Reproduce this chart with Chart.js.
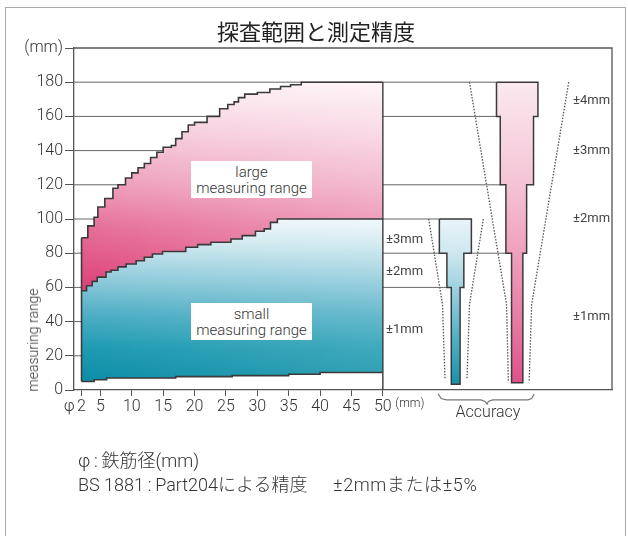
<!DOCTYPE html>
<html>
<head>
<meta charset="utf-8">
<script src="https://cdn.jsdelivr.net/npm/chart.js@4.4.1/dist/chart.umd.min.js"></script>
<style>
html,body{margin:0;padding:0;background:#fff;}
#wrap{position:relative;width:628px;height:536px;overflow:hidden;font-family:Roboto,"Liberation Sans",sans-serif;color:#333;}
#frame{position:absolute;left:5px;top:7px;width:621px;height:540px;border:1.5px solid #aaa;box-sizing:border-box;}
canvas{position:absolute;left:0;top:0;}
.t{position:absolute;white-space:nowrap;}
#title{left:0;width:632px;top:14px;line-height:32px;text-align:center;font:400 22px "Noto Sans CJK JP";color:#222;}
.box{position:absolute;left:191px;width:121px;height:37px;background:#fff;text-align:center;font:300 15px Roboto;line-height:16px;padding-top:3px;box-sizing:border-box;color:#333;}
.acc{font:13px "Liberation Sans Narrow",Roboto,sans-serif;color:#444;line-height:16px;}
#ytitle{left:33px;top:340px;font:300 14px Roboto;transform:translate(-50%,-50%) rotate(-90deg);color:#333;}
#acclabel{left:488px;top:411px;transform:translate(-50%,-50%);font:300 16px Roboto;color:#333;}
.note{left:78px;font:300 18px Roboto,"Noto Sans CJK JP";color:#333;line-height:24px;}
.note span{position:absolute;left:255px;top:0;letter-spacing:0.6px;}
</style>
</head>
<body>
<div id="wrap">
  <div id="frame"></div>
  <canvas id="c" width="628" height="536"></canvas>
  <div class="t" id="title">探査範囲と測定精度</div>
  <div class="box" style="top:161px">large<br>measuring range</div>
  <div class="box" style="top:303px">small<br>measuring range</div>
  <div class="t acc" style="left:386px;top:231px">±3mm</div>
  <div class="t acc" style="left:386px;top:263px">±2mm</div>
  <div class="t acc" style="left:386px;top:321px">±1mm</div>
  <div class="t acc" style="left:573px;top:92px">±4mm</div>
  <div class="t acc" style="left:573px;top:142px">±3mm</div>
  <div class="t acc" style="left:573px;top:210px">±2mm</div>
  <div class="t acc" style="left:573px;top:308px">±1mm</div>
  <div class="t" id="ytitle">measuring range</div>
  <div class="t" id="acclabel">Accuracy</div>
  <div class="t note" style="top:449px">φ&thinsp;:&thinsp;鉄筋径(mm)</div>
  <div class="t note" style="top:473px">BS 1881&thinsp;:&thinsp;Part204による精度<span>±2mmまたは±5%</span></div>
</div>
<script>
/* axis ranges & ticks */
const xMin = 0.8, xMax = 86.5;
const xTickValues = [0.05, 2, 5, 10, 15, 20, 25, 30, 35, 40, 45, 50, 54.3];
const xTickLabels = ['φ', '2', '5', '10', '15', '20', '25', '30', '35', '40', '45', '50', '(mm)'];
const yTickValues = [0, 20, 40, 60, 80, 100, 120, 140, 160, 180, 200];
const yTickLabels = ['0', '20', '40', '60', '80', '100', '120', '140', '160', '180', '(mm)'];

/* large range: upper limit (step curve) */
const upperX = [2, 3, 4, 4.6, 5.7, 7, 7.8, 9, 10, 11, 12, 13, 14, 15, 16.3, 17, 18, 19, 20, 22, 24, 25.3, 26.3, 27, 28, 30, 32, 33.7, 35.3, 37, 50];
const upperY = [89, 96, 101, 107, 112, 118, 120, 124, 127, 130, 132.5, 136, 139, 142, 143, 147, 151, 155, 156.5, 160, 164.5, 167, 168.5, 171, 173, 174, 176, 177.5, 178.5, 180, 180];
/* small range: upper limit */
const lowerX = [2, 2.8, 3.7, 4.5, 5.9, 6.7, 7.8, 9.1, 10.7, 12, 13.3, 14.9, 18.6, 20.5, 22.6, 25.8, 27.6, 29.7, 31.1, 32.1, 33.2, 50];
const lowerY = [58, 61, 63.5, 66, 69, 70, 72, 73.7, 75.6, 77.6, 79.5, 81, 83.5, 85, 86.4, 88.3, 90.3, 92.8, 94.2, 98, 100, 100];
/* minimum cover */
const bottomX = [2, 4, 6, 17, 26, 35, 40, 50];
const bottomY = [5, 6, 7, 7.8, 8.4, 9.2, 10.2, 10.2];

/* grid rows and where each one stops on the right */
const gridRows = [20, 40, 60, 80, 100, 120, 140, 160, 180];
const gridEnds = [50, 50, 60.9, 69.6, 59.0, 68.7, 50, 68.1, 68.1];

/* accuracy columns: tier boundaries (mm) and tier edges (x units) */
const smallLevels = [100, 80, 60, 3.3];
const smallLeft = [59.0, 60.2, 60.9];
const smallRight = [64.1, 62.9, 62.3];
const largeLevels = [180, 160, 120, 80, 4.3];
const largeLeft = [68.1, 68.7, 69.6, 70.5];
const largeRight = [74.7, 74.0, 72.9, 72.3];

/* dotted guide lines */
const smallDotLX = [57.3, 59.5, 59.9], smallDotLY = [100, 50, 6];
const smallDotRX = [66.0, 63.8, 63.4], smallDotRY = [100, 50, 6];
const largeDotLX = [63.8, 69.7, 70.0], largeDotLY = [180, 50, 4.5];
const largeDotRX = [79.6, 73.7, 73.3], largeDotRY = [180, 50, 4.5];

/* brace under the accuracy columns */
const braceX = [58.8, 59.3, 60.1, 65.6, 66.3, 66.6, 66.8, 67.5, 73.1, 73.7, 74.1];
const braceY = [-2.3, -5, -5.8, -5.8, -6.7, -8.2, -6.7, -5.8, -5.8, -5, -2.3];

const pts = (xs, ys) => xs.map((x, i) => ({x, y: ys[i]}));

function vGrad(stops){
  return (c)=>{
    const ch = c.chart;
    if(!ch.chartArea) return stops[0][1];
    const y = ch.scales.y;
    const top = y.getPixelForValue(stops[0][0]);
    const bot = y.getPixelForValue(stops[stops.length-1][0]);
    const g = ch.ctx.createLinearGradient(0, top, 0, bot);
    stops.forEach(([v, col]) => g.addColorStop((y.getPixelForValue(v) - top) / (bot - top), col));
    return g;
  };
}
// horizontal whitening towards the right side
function hShade(a0, a1){
  return (c)=>{
    const ch = c.chart;
    if(!ch.chartArea) return 'rgba(255,255,255,0)';
    const x = ch.scales.x;
    const g = ch.ctx.createLinearGradient(x.getPixelForValue(2), 0, x.getPixelForValue(50), 0);
    g.addColorStop(0, `rgba(255,255,255,${a0})`);
    g.addColorStop(1, `rgba(255,255,255,${a1})`);
    return g;
  };
}

function barShape(levels, left, right){
  const p = [{x: left[0], y: levels[0]}];
  for(let i = 0; i < left.length; i++) p.push({x: right[i], y: levels[i]}, {x: right[i], y: levels[i+1]});
  for(let i = left.length - 1; i >= 0; i--) p.push({x: left[i], y: levels[i+1]}, {x: left[i], y: levels[i]});
  return p;
}

const ln = (data, o) => Object.assign({data, pointRadius: 0, borderWidth: 1.4, borderColor: '#3a3a3a',
  fill: false, tension: 0, clip: false, borderJoinStyle: 'miter'}, o);

const pinkArea = vGrad([[180,'#fdf0f5'],[150,'#f6cadb'],[120,'#ee9dbb'],[95,'#e66e98'],[60,'#dd4279']]);
const blueArea = vGrad([[100,'#eef7fa'],[85,'#cce7ee'],[65,'#90cbdb'],[45,'#50afc5'],[25,'#1f9bb2'],[5,'#0a8da6']]);
const blueBar = vGrad([[100,'#e9f4f8'],[80,'#cde7ef'],[60,'#9fd2df'],[30,'#4fb0c5'],[3,'#1791a9']]);
const pinkBar = vGrad([[180,'#fbe9f0'],[120,'#f5c3d5'],[80,'#efa0bd'],[40,'#e77aa3'],[4,'#e0508b']]);

const hidden = {borderWidth: 0, borderColor: 'transparent', order: 8, clip: 0};
const datasets = [
  // area fills: 0 -> 1 (large range), 1 -> 2 (small range)
  ln(pts(upperX, upperY), Object.assign({stepped: true, fill: 1, backgroundColor: pinkArea}, hidden)),
  ln(pts(lowerX, lowerY), Object.assign({stepped: true, fill: 2, backgroundColor: blueArea}, hidden)),
  ln(pts(bottomX, bottomY), Object.assign({stepped: true}, hidden)),
  // light overlay so the right side fades
  ln(pts(upperX, upperY), Object.assign({}, hidden, {stepped: true, fill: 1, backgroundColor: hShade(0, 0.3), order: 7.5})),
  ln(pts(lowerX, lowerY), Object.assign({}, hidden, {stepped: true, fill: 2, backgroundColor: hShade(0, 0.15), order: 7.5})),
  // outlines
  ln(pts(upperX, upperY), {stepped: true, borderWidth: 1.6, order: 7}),
  ln(pts(lowerX, lowerY), {stepped: true, borderWidth: 1.6, order: 7}),
  ln(pts(bottomX, bottomY), {stepped: true, borderWidth: 1.6, order: 7}),
  ln(pts([upperX[0], upperX[0]], [bottomY[0], upperY[0]]), {borderWidth: 1.6, order: 7}),
  ln(pts([50, 50], [0, 180]), {borderWidth: 1.4, order: 7}),
  // accuracy columns
  ln(barShape(smallLevels, smallLeft, smallRight), {fill: 'shape', backgroundColor: blueBar, borderWidth: 1.5, order: 6}),
  ln(barShape(largeLevels, largeLeft, largeRight), {fill: 'shape', backgroundColor: pinkBar, borderWidth: 1.5, order: 6}),
  // dotted guides
  ln(pts(smallDotLX, smallDotLY), {borderDash: [1.5, 1.5], borderColor: '#555', borderWidth: 1.3, order: 5}),
  ln(pts(smallDotRX, smallDotRY), {borderDash: [1.5, 1.5], borderColor: '#555', borderWidth: 1.3, order: 5}),
  ln(pts(largeDotLX, largeDotLY), {borderDash: [1.5, 1.5], borderColor: '#555', borderWidth: 1.3, order: 5}),
  ln(pts(largeDotRX, largeDotRY), {borderDash: [1.5, 1.5], borderColor: '#555', borderWidth: 1.3, order: 5}),
  // plot frame top/right and brace
  ln(pts([xMin, xMax, xMax], [200, 200, 0]), {borderColor: '#555', borderWidth: 1.3, order: 4}),
  ln(pts(braceX, braceY), {borderColor: '#777', borderWidth: 1.2, order: 4})
];
gridRows.forEach((v, i) => datasets.push(ln(pts([xMin, gridEnds[i]], [v, v]), {borderColor: '#666', borderWidth: 1, order: 9})));

new Chart(document.getElementById('c'), {
  type: 'line',
  data: {datasets},
  options: {
    responsive: false,
    animation: false,
    events: [],
    layout: {padding: {left: 0, top: 48, right: 16, bottom: 116}},
    plugins: {legend: {display: false}, tooltip: {enabled: false}},
    scales: {
      x: {
        type: 'linear', min: xMin, max: xMax,
        afterBuildTicks: s => { s.ticks = xTickValues.map(v => ({value: v})); },
        afterFit: s => { s.height = 30; },
        ticks: {
          autoSkip: false, maxRotation: 0, padding: 1, color: '#333',
          callback: (v, i) => xTickLabels[i],
          font: c => ({family: 'Roboto', size: c.index === xTickLabels.length - 1 ? 12 : 16, weight: '300'})
        },
        grid: {drawOnChartArea: false, tickLength: 6, color: '#555',
          tickColor: c => (c.index === 0 || c.index === xTickLabels.length - 1) ? 'rgba(0,0,0,0)' : '#555'},
        border: {display: true, color: '#555', width: 1.3}
      },
      y: {
        min: 0, max: 200,
        afterBuildTicks: s => { s.ticks = yTickValues.map(v => ({value: v})); },
        afterFit: s => { s.width = 74; },
        ticks: {padding: 2, color: '#333', callback: (v, i) => yTickLabels[i],
          font: {family: 'Roboto', size: 16, weight: '300'}},
        grid: {drawOnChartArea: false, tickLength: 9, color: '#555'},
        border: {display: true, color: '#555', width: 1.3}
      }
    }
  }
});
</script>
</body>
</html>
